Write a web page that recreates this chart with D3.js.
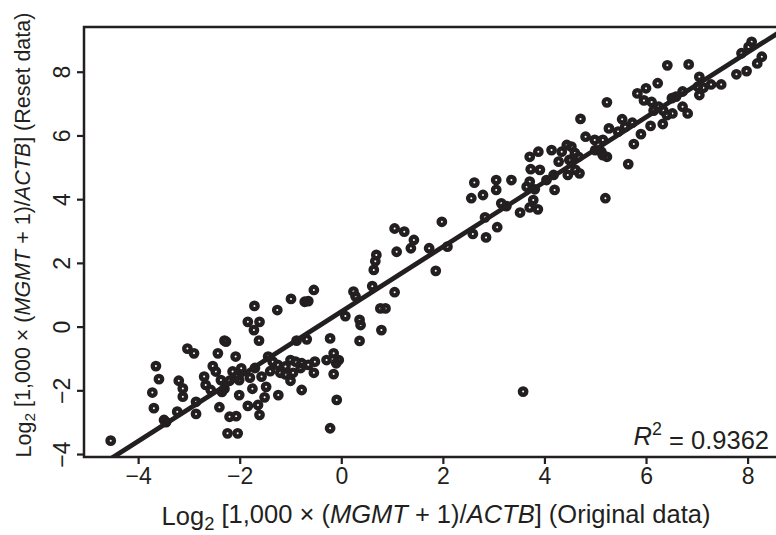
<!DOCTYPE html>
<html>
<head>
<meta charset="utf-8">
<script src="https://cdn.jsdelivr.net/npm/d3@7"></script>
<style>
  html, body { margin: 0; padding: 0; background: #fff; }
  svg { display: block; }
  text { font-family: "Liberation Sans", Arial, sans-serif; fill: #231f20; }
</style>
</head>
<body>
<script>
// ---- data ----
const originalX = [
  -4.54,-3.65,-3.59,-3.72,-3.69,-3.49,-3.45,-3.03,-2.90,-3.20,-3.12,-3.12,-3.23,-2.86,-2.86,
  -2.30,-2.43,-2.53,-2.70,-2.67,-2.47,-2.37,-2.57,-2.40,-2.24,-2.04,-2.20,-2.07,-2.01,-2.01,
  -2.14,-1.97,-2.08,-2.27,-2.30,-2.20,-2.35,-2.05,
  -1.71,-1.84,-1.61,-1.72,-1.62,-1.26,-0.99,-0.72,-0.65,-0.54,-1.44,-1.84,-1.64,-1.61,-1.57,
  -1.48,-1.51,-1.24,-0.78,-0.78,-0.88,-0.68,-0.52,-0.54,-1.00,-1.10,-1.25,-1.35,-0.95,-1.10,
  -0.80,-0.65,-1.20,-1.70,-1.80,-1.75,-1.40,-1.00,-0.90,
  -0.22,-0.29,-0.15,-0.05,-0.15,-0.09,-0.22,-0.10,
  0.08,0.24,0.28,0.36,0.38,0.36,0.61,0.64,0.69,0.67,0.77,0.87,0.79,1.05,1.05,1.24,1.09,1.37,
  1.43,1.73,1.86,1.98,2.09,
  2.59,2.85,3.07,2.83,3.15,3.25,2.56,2.79,2.62,3.05,3.05,3.35,3.52,3.65,3.71,3.78,3.71,3.87,
  3.81,3.71,3.88,3.73,3.91,4.04,4.18,4.20,4.14,4.28,4.34,4.44,4.46,4.51,3.58,
  5.20,5.65,4.71,5.23,4.81,4.99,5.27,5.15,5.12,5.23,5.15,4.69,4.53,4.49,4.60,5.00,4.67,4.61,
  5.53,5.59,5.73,5.45,5.76,5.90,6.09,6.33,6.41,5.83,6.00,6.23,5.96,6.11,6.15,6.34,6.25,6.42,
  6.51,6.59,6.72,6.72,6.82,6.52,6.84,7.05,7.02,7.13,7.05,7.28,7.48,7.78,7.98,7.88,8.08,8.02,
  8.28,8.19
];
const resetY = [
  -3.58,-1.24,-1.65,-2.07,-2.56,-2.93,-3.00,-0.69,-0.84,-1.70,-1.94,-2.20,-2.67,-2.36,-2.74,
  -0.44,-0.84,-1.24,-1.57,-1.83,-1.41,-1.68,-1.99,-2.53,-3.35,-3.35,-2.83,-2.81,-2.15,-1.68,
  -1.41,-1.31,-0.94,-0.47,-1.95,-1.70,-2.05,-1.55,
  0.65,0.15,0.15,-0.11,-0.44,0.52,0.87,0.78,0.80,1.15,-0.94,-2.49,-2.46,-2.77,-1.57,
  -1.89,-2.22,-2.15,-1.99,-1.15,-0.44,-0.40,-1.10,-1.45,-1.05,-1.25,-1.20,-1.10,-1.45,-1.50,
  -1.30,-1.20,-1.45,-1.30,-1.60,-1.95,-1.40,-1.70,-1.10,
  -0.37,-1.05,-0.84,-1.05,-1.49,-2.30,-3.19,-1.15,
  0.33,1.10,0.95,0.21,0.05,-0.45,1.27,1.78,2.25,2.05,0.57,0.57,-0.11,1.08,3.08,2.98,2.35,2.46,
  2.72,2.46,1.75,3.29,2.51,
  2.91,2.80,3.12,3.43,3.87,3.78,4.03,4.13,4.52,4.60,4.29,4.60,3.58,4.39,4.55,3.97,3.74,3.68,
  4.31,5.33,5.49,4.94,4.92,4.60,4.76,4.29,5.54,5.18,5.49,5.70,4.76,5.23,-2.04,
  4.03,5.10,6.52,7.04,5.96,5.86,6.22,5.86,5.49,5.33,5.38,4.81,5.65,5.23,5.45,5.54,5.33,4.92,
  6.51,6.27,6.40,6.12,5.73,6.04,6.30,6.36,6.64,7.32,7.48,7.64,7.10,7.05,6.78,6.78,6.90,8.20,
  7.17,7.22,7.38,6.90,6.69,6.69,8.23,7.84,7.53,7.50,7.27,7.60,7.60,7.92,8.02,8.58,8.94,8.78,
  8.47,8.26
];
const xTicks = [-4, -2, 0, 2, 4, 6, 8];
const yTicks = [-4, -2, 0, 2, 4, 6, 8];
const fitSlope = 1.017;
const fitIntercept = 0.47;
const r2Label = "0.9362";

// ---- layout ----
const W = 776, H = 535;
const pL = 84, pT = 27, pR = 790, pB = 457;
const ink = "#231f20";
const FONT = "'Liberation Sans', Arial, sans-serif";

const x = d3.scaleLinear().domain([-5.066, 8.835]).range([pL, pR]);
const y = d3.scaleLinear().domain([-4.093, 9.404]).range([pB, pT]);

const svg = d3.select("body").append("svg").attr("width", W).attr("height", H);

svg.append("clipPath").attr("id", "clip")
  .append("rect").attr("x", pL).attr("y", pT).attr("width", pR - pL).attr("height", pB - pT);

const plot = svg.append("g").attr("clip-path", "url(#clip)");

// points
const pts = originalX.map((v, i) => ({ x: v, y: resetY[i] }));
plot.selectAll("circle.pt").data(pts).join("circle")
  .attr("class", "pt")
  .attr("cx", d => x(d.x)).attr("cy", d => y(d.y))
  .attr("r", 3.2)
  .attr("fill", "none")
  .attr("stroke", ink)
  .attr("stroke-width", 4.4);

// regression line
const fx = [-6, 10];
plot.append("line")
  .attr("x1", x(fx[0])).attr("y1", y(fitIntercept + fitSlope * fx[0]))
  .attr("x2", x(fx[1])).attr("y2", y(fitIntercept + fitSlope * fx[1]))
  .attr("stroke", ink).attr("stroke-width", 4.8);

// frame
svg.append("path")
  .attr("d", `M${pR},${pT}H${pL}V${pB}H${pR}`)
  .attr("fill", "none").attr("stroke", ink).attr("stroke-width", 2.5);

// axes
const fmt = d => d < 0 ? "\u2212" + Math.abs(d) : String(d);
const xAxis = d3.axisBottom(x).tickValues(xTicks).tickSize(7).tickPadding(4).tickFormat(fmt);
const gx = svg.append("g").attr("transform", `translate(0,${pB})`).call(xAxis)
  .attr("font-size", 23).attr("font-family", FONT);
gx.select(".domain").remove();
gx.selectAll(".tick line").attr("stroke", ink).attr("stroke-width", 2.2);
gx.selectAll(".tick text").attr("fill", ink);

const yAxis = d3.axisLeft(y).tickValues(yTicks).tickSize(7).tickPadding(0).tickFormat(fmt);
const gy = svg.append("g").attr("transform", `translate(${pL},0)`).call(yAxis)
  .attr("font-size", 23).attr("font-family", FONT);
gy.select(".domain").remove();
gy.selectAll(".tick line").attr("stroke", ink).attr("stroke-width", 2.2);
gy.selectAll(".tick text")
  .attr("fill", ink)
  .attr("x", 0).attr("y", 0).attr("dy", "0.35em")
  .attr("text-anchor", "middle")
  .attr("transform", "translate(-22,0) rotate(-90)");

// axis titles
function titleParts(sel, tail) {
  sel.append("tspan").text("Log");
  sel.append("tspan").attr("font-size", "0.72em").attr("dy", "0.25em").text("2");
  sel.append("tspan").attr("dy", "-0.25em").text(" [1,000 \u00d7 (");
  sel.append("tspan").attr("font-style", "italic").text("MGMT");
  sel.append("tspan").text(" + 1)/");
  sel.append("tspan").attr("font-style", "italic").text("ACTB");
  sel.append("tspan").text("] " + tail);
}

const xt = svg.append("text")
  .attr("x", 436).attr("y", 525)
  .attr("text-anchor", "middle").attr("font-size", 25.5);
titleParts(xt, "(Original data)");

const yt = svg.append("text")
  .attr("transform", `translate(31,235) rotate(-90)`)
  .attr("text-anchor", "middle").attr("font-size", 21.5);
titleParts(yt, "(Reset data)");

// R^2 label
const rt = svg.append("text")
  .attr("x", 769).attr("y", 445)
  .attr("text-anchor", "end").attr("font-size", 25.5);
rt.append("tspan").attr("font-style", "italic").text("R");
rt.append("tspan").attr("font-size", "0.7em").attr("dy", "-0.55em").text("2");
rt.append("tspan").attr("dy", "0.55em").text(" = " + r2Label);
</script>
</body>
</html>
